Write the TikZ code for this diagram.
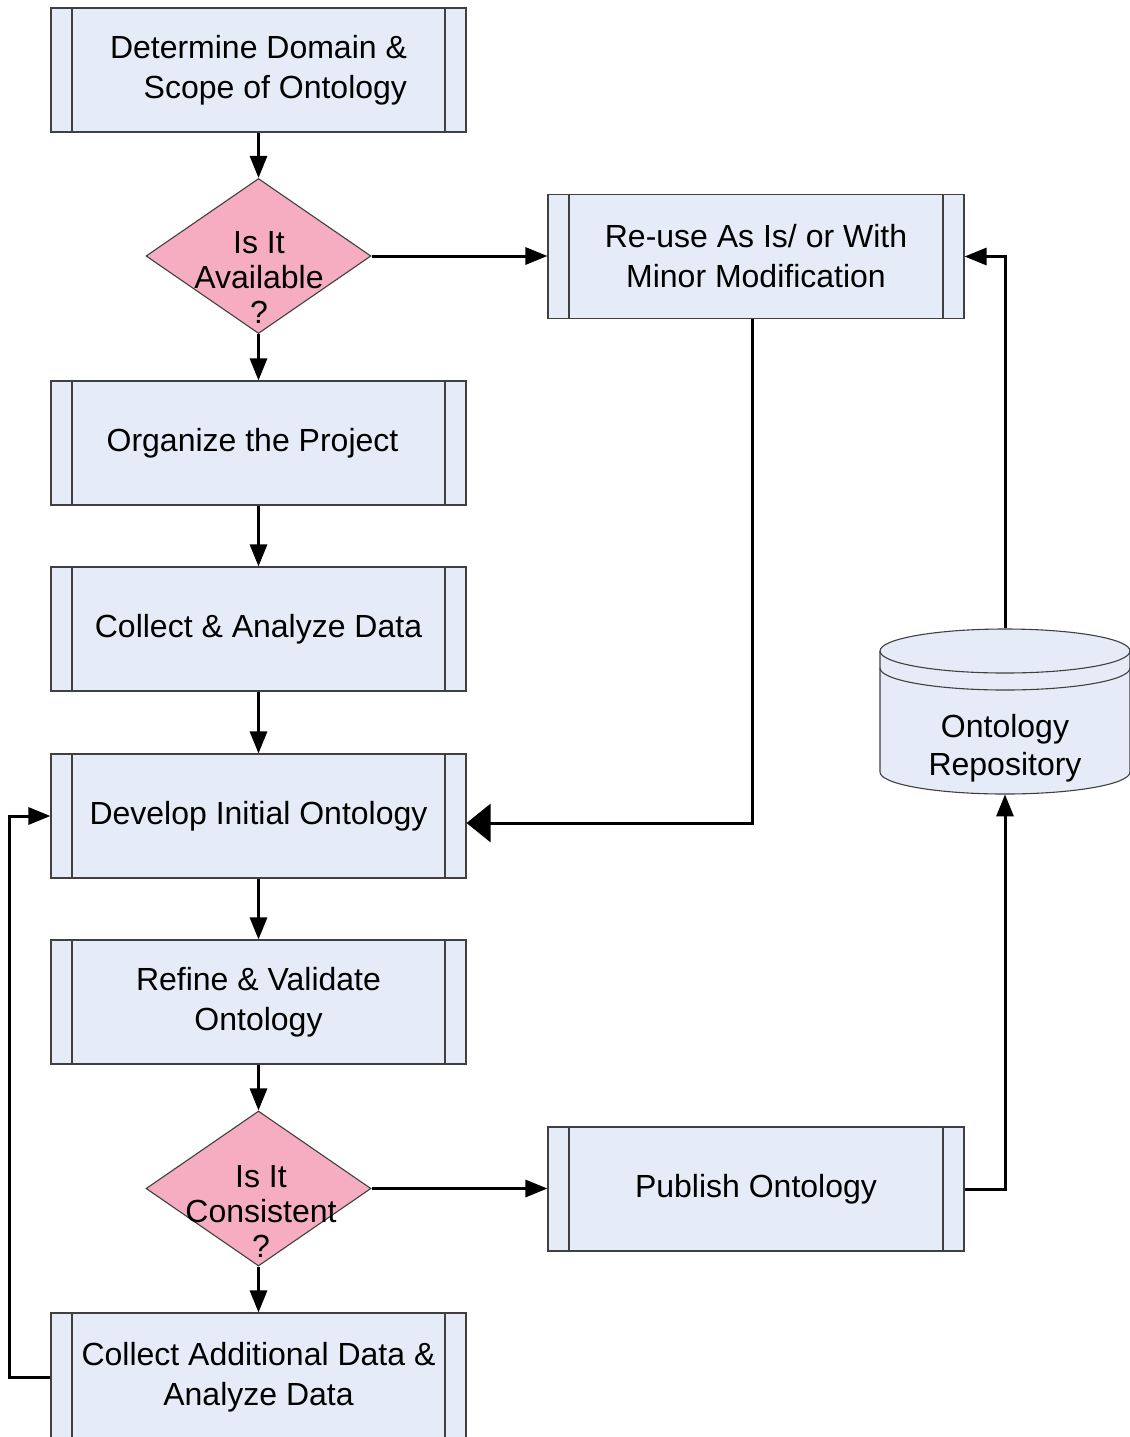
\documentclass[tikz,border=0pt]{standalone}
\usepackage{fontspec}
\setmainfont{Liberation Sans}
\usetikzlibrary{shapes.geometric,arrows.meta}
\definecolor{procfill}{HTML}{E6ECF7}
\definecolor{decfill}{HTML}{F6ADC1}
\definecolor{edgegray}{HTML}{404040}
\begin{document}
\begin{tikzpicture}[x=0.5pt,y=0.5pt,
  font=\fontsize{16pt}{20pt}\selectfont,
  procbox/.style={draw=edgegray,line width=0.55pt,fill=procfill,rectangle,
    minimum width=207.5pt,minimum height=62pt,inner sep=0pt,align=center,
    path picture={
      \draw[edgegray,line width=0.55pt]
        ([xshift=10.5pt]path picture bounding box.north west) --
        ([xshift=10.5pt]path picture bounding box.south west)
        ([xshift=-10.5pt]path picture bounding box.north east) --
        ([xshift=-10.5pt]path picture bounding box.south east);}},
  decision/.style={draw=edgegray,line width=0.55pt,fill=decfill,diamond,
    minimum width=112.5pt,minimum height=77.5pt,inner sep=0pt},
  dectext/.style={align=center,inner sep=0pt,
    font=\fontsize{16pt}{17.5pt}\selectfont},
  flow/.style={line width=1.5pt,-{Triangle[length=11pt,width=8.5pt]}},
  bigflow/.style={line width=1.5pt,-{Triangle[length=12pt,width=19pt]}}]

\useasboundingbox (0,0) rectangle (1130,-1437);
\clip (0,0) rectangle (1130,-1437);

% main column of process steps
\node[procbox,align=right] (scope) at (258.5,-70) {Determine Domain \&\\Scope of Ontology};
\node[decision] (avail) at (258.5,-256) {};
\node[dectext] (availtxt) at (259,-277) {Is It\\Available\\?};
\node[procbox] (organize) at (258.5,-443) {Organize the Project\hspace*{6pt}};
\node[procbox] (collect) at (258.5,-629) {Collect \& Analyze Data};
\node[procbox] (develop) at (258.5,-816) {Develop Initial Ontology};
\node[procbox] (refine) at (258.5,-1002) {Refine \& Validate\\Ontology};
\node[decision] (consist) at (258.5,-1188.5) {};
\node[dectext] (consisttxt) at (261,-1211) {Is It\\Consistent\\?};
\node[procbox,minimum height=64pt] (collectadd) at (258.5,-1377)
  {Collect Additional Data \&\\Analyze Data};

% right column
\node[procbox,minimum width=208pt] (reuse) at (756,-256.5) {Re-use As Is/ or With\\Minor Modification};
\node[procbox,minimum width=208pt] (publish) at (756,-1189) {Publish Ontology};

% ontology repository (cylinder)
\filldraw[draw=edgegray,line width=0.55pt,fill=procfill]
  (880,-651) -- (880,-772)
  arc[start angle=180,end angle=360,x radius=62.5pt,y radius=11pt]
  -- (1130,-651)
  arc[start angle=0,end angle=180,x radius=62.5pt,y radius=11pt] -- cycle;
\draw[edgegray,line width=0.55pt]
  (880,-651) arc[start angle=180,end angle=360,x radius=62.5pt,y radius=11pt];
\draw[edgegray,line width=0.55pt]
  (880,-668) arc[start angle=180,end angle=360,x radius=62.5pt,y radius=11pt];
\node[minimum width=125pt,minimum height=83pt,inner sep=0pt] (repo) at (1005,-711) {};
\node[align=center,inner sep=0pt,font=\fontsize{16pt}{19pt}\selectfont] (repotxt) at (1005,-748) {Ontology\\Repository};

% connectors
\draw[flow] (scope) -- (avail);
\draw[flow] (avail.east) -- (reuse.west |- avail.east);
\draw[flow] (avail) -- (organize);
\draw[flow] (organize) -- (collect);
\draw[flow] (collect) -- (develop);
\draw[flow] (develop) -- (refine);
\draw[flow] (refine) -- (consist);
\draw[flow] (consist.east) -- (publish.west |- consist.east);
\draw[flow] (consist) -- (collectadd);
\draw[bigflow] ([xshift=-2pt]reuse.south) |- ([yshift=-3.5pt]develop.east);
\draw[flow] (publish.east) -| (repo.south);
\draw[flow] (repo.north) |- (reuse.east);
\draw[flow] (collectadd.west) -- ++(-41,0) |- (develop.west);
\end{tikzpicture}
\end{document}
